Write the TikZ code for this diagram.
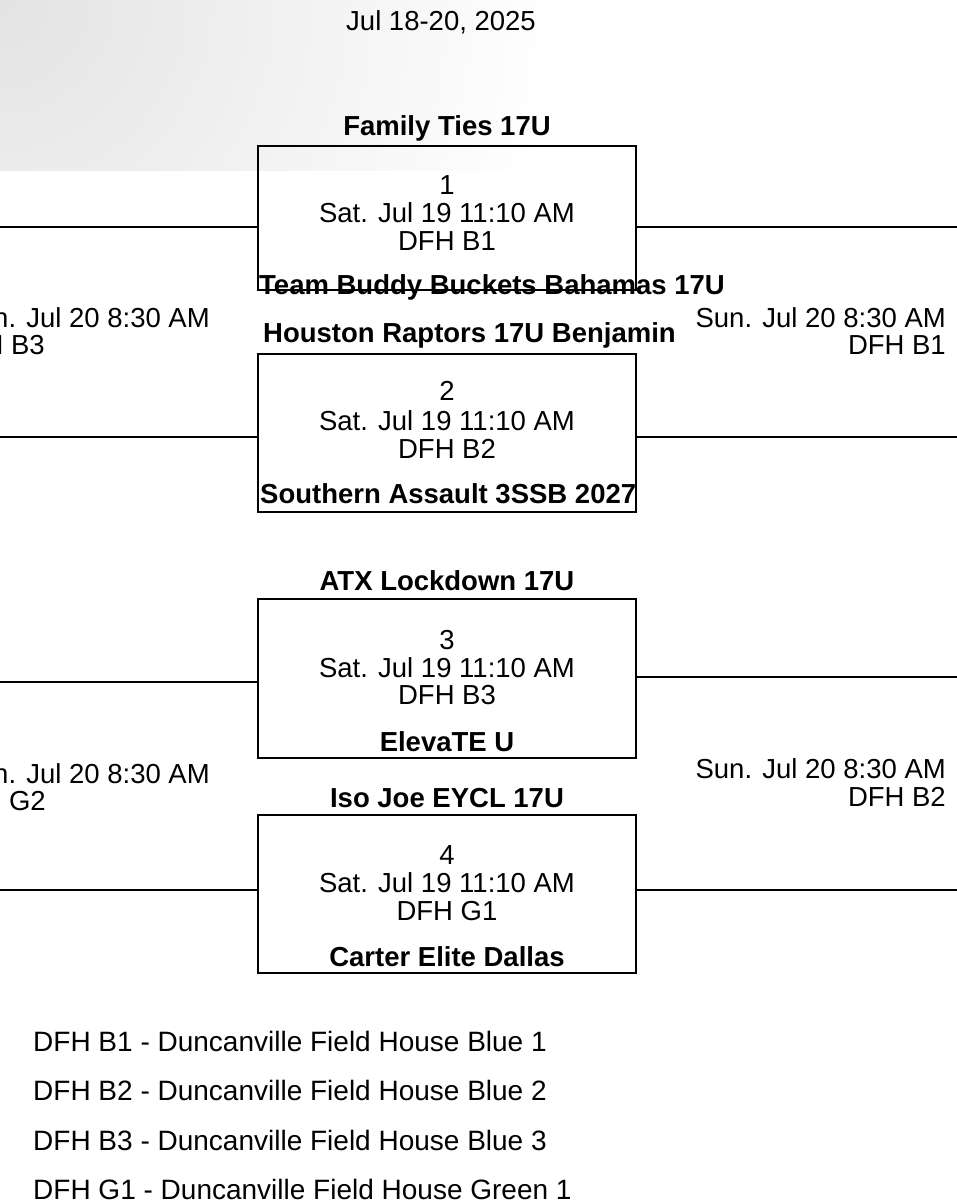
\documentclass[tikz,border=0pt]{standalone}
\usepackage{fontspec}
\setmainfont{Liberation Sans}
\begin{document}
\begin{tikzpicture}[x=1pt,y=-1pt,
  txt/.style={font=\fontsize{27.5}{27.5}\selectfont,inner sep=0pt},
  team/.style={txt,font=\fontsize{27.5}{27.5}\selectfont\bfseries},
  leg/.style={txt,font=\fontsize{28}{28}\selectfont,anchor=west},
  bx/.style={draw,line width=1.6pt},
  ln/.style={line width=1.6pt}]
\useasboundingbox (0,0) rectangle (957,1200);
\clip (0,0) rectangle (957,1200);
\begin{scope}
\clip (0,0) rectangle (957,170);
\shade[inner color=gray!22,outer color=white] (0,0) circle (560);
\end{scope}
\node[txt] (title) at (441,22) {Jul 18-20, 2025};
% boxes
\draw[bx] (258,146) rectangle (636,290);
\draw[bx] (258,354) rectangle (636,512);
\draw[bx] (258,599) rectangle (636,758);
\draw[bx] (258,815) rectangle (636,973);
% lines
\draw[ln] (0,227) -- (258,227);
\draw[ln] (0,437) -- (258,437);
\draw[ln] (636,227) -- (957,227);
\draw[ln] (636,437) -- (957,437);
\draw[ln] (0,682) -- (258,682);
\draw[ln] (0,890) -- (258,890);
\draw[ln] (636,677) -- (957,677);
\draw[ln] (636,890) -- (957,890);
% box 1
\node[team] (t1) at (447,128) {Family Ties 17U};
\node[txt] (n1) at (447,185) {1};
\node[txt] (d1) at (447,213) {Sat. Jul 19 11:10 AM};
\node[txt] (c1) at (447,241) {DFH B1};
\node[team,anchor=west] (b1) at (259,287) {Team Buddy Buckets Bahamas 17U};
% box 2
\node[team,anchor=west] (t2) at (263,335) {Houston Raptors 17U Benjamin};
\node[txt] (n2) at (447,391) {2};
\node[txt] (d2) at (447,421) {Sat. Jul 19 11:10 AM};
\node[txt] (c2) at (447,449) {DFH B2};
\node[team,anchor=west] (b2) at (260,494) {Southern Assault 3SSB 2027};
% box 3
\node[team] (t3) at (447,581) {ATX Lockdown 17U};
\node[txt] (n3) at (447,640) {3};
\node[txt] (d3) at (447,668) {Sat. Jul 19 11:10 AM};
\node[txt] (c3) at (447,695) {DFH B3};
\node[team] (b3) at (447,742) {ElevaTE U};
% box 4
\node[team] (t4) at (447,798) {Iso Joe EYCL 17U};
\node[txt] (n4) at (447,855) {4};
\node[txt] (d4) at (447,883) {Sat. Jul 19 11:10 AM};
\node[txt] (c4) at (447,911) {DFH G1};
\node[team] (b4) at (447,957) {Carter Elite Dallas};
% side labels (cut at the left edge as in the reference)
\node[txt,anchor=east] (ls1) at (210,318) {Sun. Jul 20 8:30 AM};
\node[txt,anchor=east] (lc1) at (45,345) {DFH B3};
\node[txt,anchor=east] (rs1) at (946,318) {Sun. Jul 20 8:30 AM};
\node[txt,anchor=east] (rc1) at (946,345) {DFH B1};
\node[txt,anchor=east] (ls2) at (210,774) {Sun. Jul 20 8:30 AM};
\node[txt,anchor=east] (lc2) at (46,801) {DFH G2};
\node[txt,anchor=east] (rs2) at (946,769) {Sun. Jul 20 8:30 AM};
\node[txt,anchor=east] (rc2) at (946,797) {DFH B2};
% legend
\node[leg] (g1) at (33,1041) {DFH B1 - Duncanville Field House Blue 1};
\node[leg] (g2) at (33,1090) {DFH B2 - Duncanville Field House Blue 2};
\node[leg] (g3) at (33,1140) {DFH B3 - Duncanville Field House Blue 3};
\node[leg] (g4) at (33,1189) {DFH G1 - Duncanville Field House Green 1};
\end{tikzpicture}
\end{document}
